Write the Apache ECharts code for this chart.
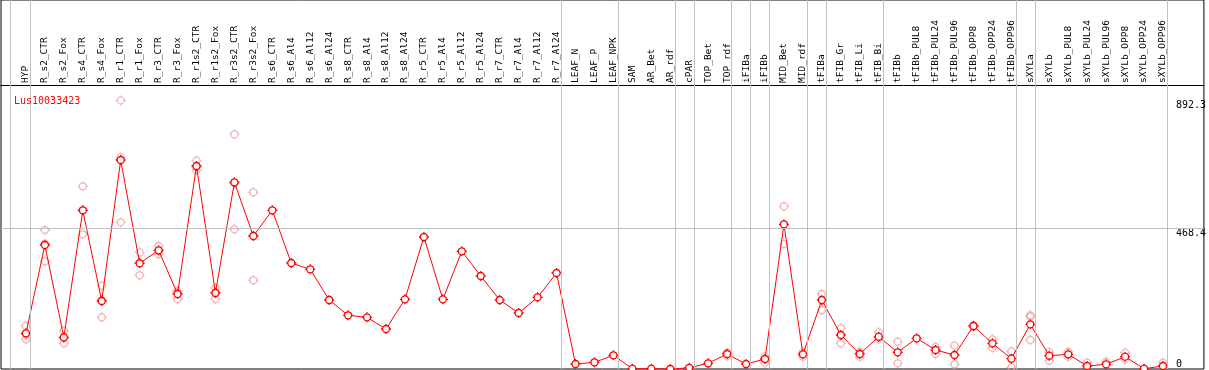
<!DOCTYPE html>
<html>
<head>
<meta charset="utf-8">
<script src="https://cdn.jsdelivr.net/npm/echarts@6/dist/echarts.min.js"></script>
<style>
  html, body { margin: 0; padding: 0; background: #fff; }
  #chart { width: 1209px; height: 370px; }
</style>
</head>
<body>
<div id="chart"></div>
<script>
var geneName = 'Lus10033423';

var categories = [
  'HYP', 'R_s2_CTR', 'R_s2_Fox', 'R_s4_CTR', 'R_s4_Fox', 'R_r1_CTR', 'R_r1_Fox',
  'R_r3_CTR', 'R_r3_Fox', 'R_r1s2_CTR', 'R_r1s2_Fox', 'R_r3s2_CTR', 'R_r3s2_Fox',
  'R_s6_CTR', 'R_s6_Al4', 'R_s6_Al12', 'R_s6_Al24', 'R_s8_CTR', 'R_s8_Al4',
  'R_s8_Al12', 'R_s8_Al24', 'R_r5_CTR', 'R_r5_Al4', 'R_r5_Al12', 'R_r5_Al24',
  'R_r7_CTR', 'R_r7_Al4', 'R_r7_Al12', 'R_r7_Al24', 'LEAF_N', 'LEAF_P', 'LEAF_NPK',
  'SAM', 'AR_Bet', 'AR_rdf', 'cPAR', 'TOP_Bet', 'TOP_rdf', 'iFIBa', 'iFIBb',
  'MID_Bet', 'MID_rdf', 'tFIBa', 'tFIB_Gr', 'tFIB_Li', 'tFIB_Bi', 'tFIBb',
  'tFIBb_PUL8', 'tFIBb_PUL24', 'tFIBb_PUL96', 'tFIBb_OPP8', 'tFIBb_OPP24', 'tFIBb_OPP96',
  'sXYLa', 'sXYLb', 'sXYLb_PUL8', 'sXYLb_PUL24', 'sXYLb_PUL96', 'sXYLb_OPP8',
  'sXYLb_OPP24', 'sXYLb_OPP96'
];

// mean expression per sample
var meanValues = [
  118.6, 412, 105.3, 527.2, 225.9, 694.3, 351.1, 394.3, 249.2, 674.4, 252.5, 620.2, 441.8,
  527.2, 352.1, 331.2, 229.2, 178.4, 171.7, 132.9, 231.5, 438.5, 231.5, 391, 309,
  229.2, 186, 238.2, 318.9, 16.6, 22.3, 45.5, 1, 1, 0, 4, 19, 49.8, 16.6, 33.2,
  480.7, 48.8, 229.2, 113, 49.8, 107.3, 55.5, 102, 63.1, 46.5, 142.8, 85.4, 34.2,
  148.5, 44.2, 48.8, 10, 15.6, 40.9, 1, 10
];

// replicates (null = not shown)
var repA = [
  142.8, 461.8, 127.2, 607, 276.7, 892.3, 387.7, 408.6, 260.1, 692, 269, 779.7, 587,
  null, null, null, null, null, null, null, null, null, null, null, null,
  null, null, null, null, null, null, null, null, null, null, null, null,
  54, null, 40.9, 540.5, 55.5, 249.2, 135.2, 56.5, 121.9, 90.7, null, 73.1, 77.4,
  146, 98.7, 58.8, 178.4, 55.5, 56.5, 21, 24, 54.1, null, 21
];
var repB = [
  98.7, 357.8, 85.4, 447.5, 171.7, 487.3, 311.3, 382, 232.5, 661, 233.5, 464.1, 294.7,
  null, null, null, null, null, null, null, null, null, null, null, null,
  null, null, null, null, null, null, null, null, null, null, null, null,
  43, null, 21, 415, 40.9, 196, 85.4, 40.9, 100.7, 19, null, 49.8, 15.6,
  139.5, 70.8, 5.6, 96.3, 27.6, 40.9, null, null, 32.2, null, null
];
var repC = [
  114, 416, 103, 527, 229, 703, 354, 392, 255, 670, 255, 617, 443,
  null, null, null, null, null, null, null, null, null, null, null, null,
  null, null, null, null, null, null, null, null, null, null, null, null,
  null, null, null, null, null, null, null, null, null, null, null, null, null,
  null, null, null, 173.7, null, null, null, null, null, null, null
];

// group separators (axis positions between sample groups)
var separators = [-0.84, 0.24, 28.24, 31.24, 34.24, 35.24, 37.24, 38.24, 39.24,
  41.24, 42.24, 45.24, 52.24, 53.24, 60.24];
var yTickValues = [0, 468.4, 892.3];
var yGridValue = 468.4;

var font = 'DejaVu Sans Mono';
// ring with four small ticks
var markerPath = 'path://M0,-5L0,-3.5M0,3.5L0,5M-5,0L-3.5,0M3.5,0L5,0' +
  'M-3.5,0C-3.5,-1.933,-1.933,-3.5,0,-3.5C1.933,-3.5,3.5,-1.933,3.5,0' +
  'C3.5,1.933,1.933,3.5,0,3.5C-1.933,3.5,-3.5,1.933,-3.5,0Z';

var labelIdx = categories.map(function(d, i) { return i; });

var mainData = meanValues.map(function(v, i) { return [i, v]; });
var repData = [];
[repA, repB, repC].forEach(function(arr) {
  arr.forEach(function(v, i) {
    if (v != null) repData.push([i, v]);
  });
});

var myChart = echarts.init(document.getElementById('chart'));
var option = {
  animation: false,
  title: {
    text: geneName,
    left: 9,
    top: 91,
    textStyle: { color: '#ff0000', fontSize: 10, fontWeight: 'normal', fontFamily: font }
  },
  grid: {
    left: 1, right: 2, top: 0, bottom: 1,
    show: true, borderColor: '#000', borderWidth: 1
  },
  xAxis: {
    type: 'value',
    position: 'top',
    offset: -85,
    min: -1.316,
    max: 62.16,
    splitLine: { show: false },
    axisTick: { show: false },
    axisLine: { show: true, onZero: false, lineStyle: { color: '#000', width: 1 } },
    axisLabel: {
      customValues: labelIdx,
      rotate: -90,
      margin: 2,
      color: '#000',
      fontSize: 9.5,
      fontFamily: font,
      formatter: function(v) { return categories[v] || ''; }
    }
  },
  yAxis: {
    type: 'value',
    position: 'right',
    min: 0,
    max: 1225.8,
    splitLine: { show: false },
    axisLine: { show: false },
    axisTick: { show: false },
    axisLabel: {
      customValues: yTickValues,
      inside: true,
      align: 'left',
      margin: 28,
      verticalAlign: 'top',
      verticalAlignMinLabel: 'bottom',
      color: '#000',
      fontSize: 10,
      fontFamily: font,
      formatter: function(v) { return String(v); }
    }
  },
  series: [
    {
      type: 'line',
      data: [],
      z: 1,
      silent: true,
      markLine: {
        silent: true,
        symbol: 'none',
        label: { show: false },
        lineStyle: { color: '#c0c0c0', width: 1, type: 'solid' },
        data: separators.map(function(s) { return { xAxis: s }; })
          .concat([{ yAxis: yGridValue }])
      }
    },
    {
      type: 'scatter',
      data: repData,
      z: 3,
      symbol: markerPath,
      symbolSize: 10,
      itemStyle: { color: 'rgba(255,255,255,0)', borderColor: '#f0a0a0', borderWidth: 1.3 },
      emphasis: { disabled: true }
    },
    {
      type: 'line',
      data: mainData,
      z: 4,
      symbol: markerPath,
      symbolSize: 10,
      showAllSymbol: true,
      lineStyle: { color: '#ff0000', width: 1 },
      itemStyle: { color: '#ffffff', borderColor: '#ff0000', borderWidth: 1.3 },
      emphasis: { disabled: true }
    }
  ]
};
myChart.setOption(option);
</script>
</body>
</html>
